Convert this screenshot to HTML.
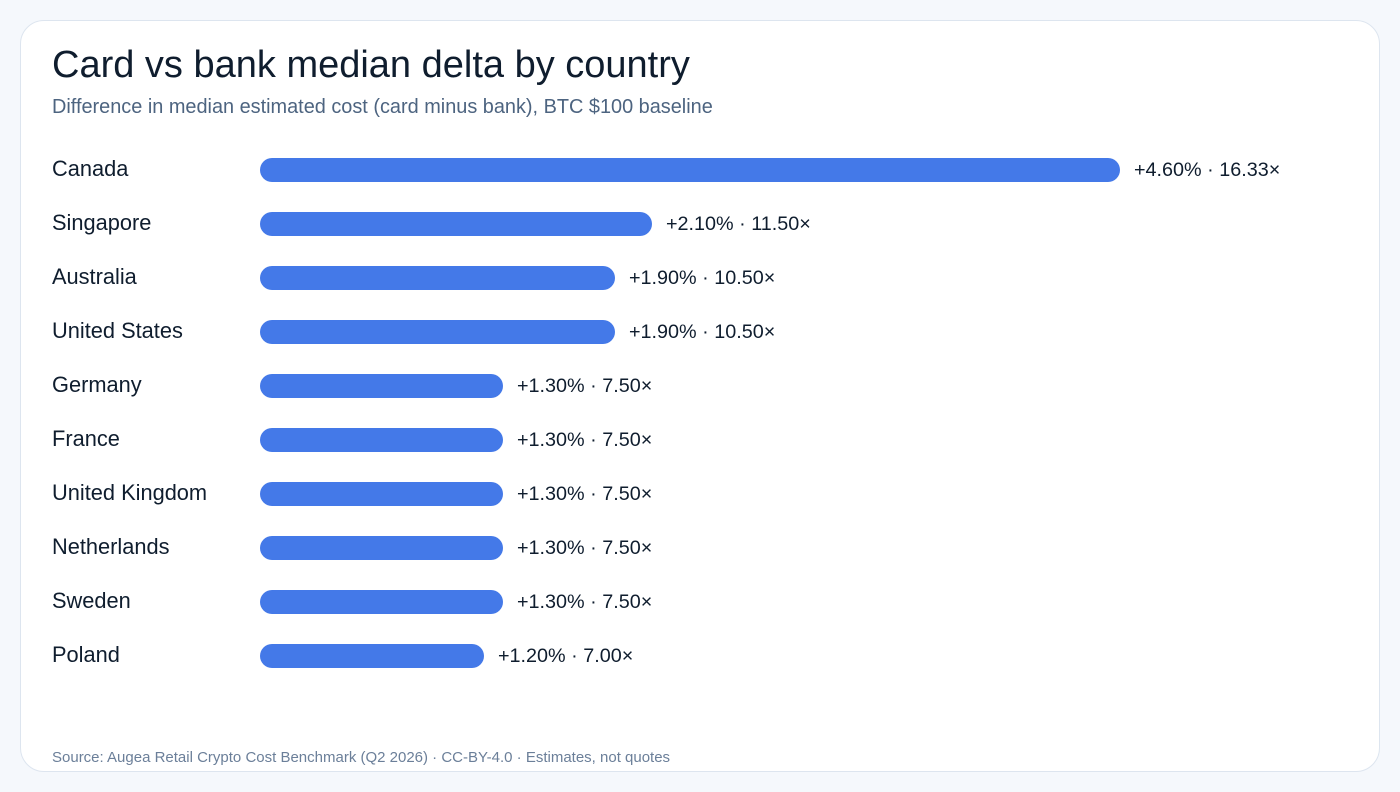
<!DOCTYPE html>
<html><head><meta charset="utf-8"><style>
body{margin:0;width:1400px;height:792px;background:#f5f8fc;font-family:"Liberation Sans",sans-serif;position:relative;overflow:hidden}
.card{position:absolute;left:20px;top:20px;width:1358px;height:750px;background:#fff;border:1px solid #dde5ef;border-radius:24px}
.t{position:absolute;left:52px;top:44px;font-size:38px;color:#0f1d2e;white-space:nowrap}
.s{position:absolute;left:52px;top:96px;font-size:19.9px;color:#4d6480;white-space:nowrap}
.l{position:absolute;left:52px;font-size:21.8px;color:#0f1d2e;line-height:24px;white-space:nowrap}
.b{position:absolute;left:260px;height:24px;border-radius:12px;background:#4479e8}
.v{position:absolute;font-size:19.8px;color:#0f1d2e;line-height:24px;white-space:nowrap}
.f{position:absolute;left:52px;top:749px;font-size:15px;color:#6b7f99;white-space:nowrap}
</style></head><body>
<div class="card"></div>
<div class="t">Card vs bank median delta by country</div>
<div class="s">Difference in median estimated cost (card minus bank), BTC $100 baseline</div>
<div class="l" style="top:157px">Canada</div><div class="b" style="top:158px;width:860px"></div><div class="v" style="top:158px;left:1134px">+4.60% · 16.33×</div>
<div class="l" style="top:211px">Singapore</div><div class="b" style="top:212px;width:392px"></div><div class="v" style="top:212px;left:666px">+2.10% · 11.50×</div>
<div class="l" style="top:265px">Australia</div><div class="b" style="top:266px;width:355px"></div><div class="v" style="top:266px;left:629px">+1.90% · 10.50×</div>
<div class="l" style="top:319px">United States</div><div class="b" style="top:320px;width:355px"></div><div class="v" style="top:320px;left:629px">+1.90% · 10.50×</div>
<div class="l" style="top:373px">Germany</div><div class="b" style="top:374px;width:243px"></div><div class="v" style="top:374px;left:517px">+1.30% · 7.50×</div>
<div class="l" style="top:427px">France</div><div class="b" style="top:428px;width:243px"></div><div class="v" style="top:428px;left:517px">+1.30% · 7.50×</div>
<div class="l" style="top:481px">United Kingdom</div><div class="b" style="top:482px;width:243px"></div><div class="v" style="top:482px;left:517px">+1.30% · 7.50×</div>
<div class="l" style="top:535px">Netherlands</div><div class="b" style="top:536px;width:243px"></div><div class="v" style="top:536px;left:517px">+1.30% · 7.50×</div>
<div class="l" style="top:589px">Sweden</div><div class="b" style="top:590px;width:243px"></div><div class="v" style="top:590px;left:517px">+1.30% · 7.50×</div>
<div class="l" style="top:643px">Poland</div><div class="b" style="top:644px;width:224px"></div><div class="v" style="top:644px;left:498px">+1.20% · 7.00×</div>
<div class="f">Source: Augea Retail Crypto Cost Benchmark (Q2 2026) · CC-BY-4.0 · Estimates, not quotes</div>
</body></html>
